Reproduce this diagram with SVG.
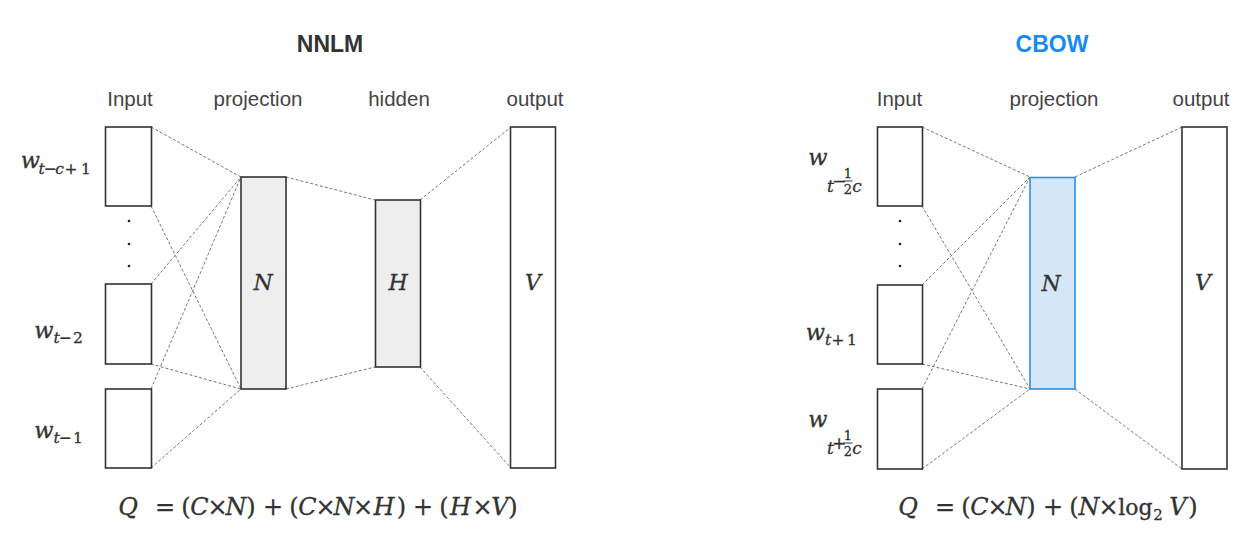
<svg xmlns="http://www.w3.org/2000/svg" width="1245" height="533" viewBox="0 0 1245 533">
<style>
.title{font-family:"Liberation Sans",Arial,sans-serif;font-weight:bold;font-size:23px;text-anchor:middle}
.lbl{font-family:"Liberation Sans",Arial,sans-serif;font-size:20.5px;fill:#444;text-anchor:middle}
.m{font-family:"DejaVu Serif","Liberation Serif",serif;fill:#333;stroke:#333;stroke-width:0.3;text-anchor:middle}
.it{font-style:italic}
.s{font-size:15.5px}
.s2{font-size:17px}
.f{font-size:13px}
.box{fill:#fff;stroke:#333;stroke-width:1.6}
.grey{fill:#eeeeef;stroke:#333;stroke-width:1.6}
.blue{fill:#d5e7f6;stroke:#2a8fe8;stroke-width:1.6}
.dash{stroke:#777;stroke-width:1;stroke-dasharray:3 2;fill:none}
.dot{fill:#222}
.bar{stroke:#333;stroke-width:1}
</style>
<rect width="1245" height="533" fill="#fff"/>

<!-- titles -->
<text class="title" x="330" y="52" fill="#333">NNLM</text>
<text class="title" x="1052" y="52" fill="#168bf5">CBOW</text>

<!-- column labels -->
<text class="lbl" x="130" y="106">Input</text>
<text class="lbl" x="258" y="106">projection</text>
<text class="lbl" x="399" y="106">hidden</text>
<text class="lbl" x="535" y="106">output</text>
<text class="lbl" x="899.5" y="106">Input</text>
<text class="lbl" x="1054" y="106">projection</text>
<text class="lbl" x="1201" y="106">output</text>

<!-- connectors -->
<g id="connectors" class="dash">
  <line x1="151" y1="127" x2="241" y2="177"/>
  <line x1="151" y1="206" x2="241" y2="389"/>
  <line x1="151" y1="284" x2="241" y2="177"/>
  <line x1="151" y1="364" x2="241" y2="389"/>
  <line x1="151" y1="389" x2="241" y2="177"/>
  <line x1="151" y1="468" x2="241" y2="389"/>
  <line x1="286" y1="177" x2="375" y2="200"/>
  <line x1="286" y1="389" x2="375" y2="367"/>
  <line x1="420" y1="200" x2="511" y2="127"/>
  <line x1="420" y1="367" x2="511" y2="468"/>
  <line x1="922" y1="127" x2="1030" y2="177"/>
  <line x1="922" y1="206" x2="1030" y2="389"/>
  <line x1="922" y1="285" x2="1030" y2="177"/>
  <line x1="922" y1="364" x2="1030" y2="389"/>
  <line x1="922" y1="389" x2="1030" y2="177"/>
  <line x1="922" y1="469" x2="1030" y2="389"/>
  <line x1="1075" y1="177" x2="1182" y2="127"/>
  <line x1="1075" y1="389" x2="1182" y2="469"/>
</g>

<!-- NNLM nodes -->
<g id="nnlm-in1"><rect class="box" x="105.5" y="127" width="46" height="79"/>
  <text class="m" y="168"><tspan class="it" x="30.3" font-size="22.5">w</tspan><tspan class="s it" y="174" x="41.5">t</tspan><tspan class="s" x="50.5">−</tspan><tspan class="s it" x="59.5">c</tspan><tspan class="s" x="71">+</tspan><tspan class="s" x="86">1</tspan></text>
</g>
<g id="nnlm-dots"><circle class="dot" cx="129" cy="221" r="1.3"/><circle class="dot" cx="129" cy="244" r="1.3"/><circle class="dot" cx="129" cy="266" r="1.3"/></g>
<g id="nnlm-in2"><rect class="box" x="105.5" y="284" width="46" height="80"/>
  <text class="m" y="338"><tspan class="it" x="44" font-size="22.5">w</tspan><tspan class="s it" y="343" x="56.5">t</tspan><tspan class="s" x="65.5">−</tspan><tspan class="s" x="78">2</tspan></text>
</g>
<g id="nnlm-in3"><rect class="box" x="105.5" y="389" width="46" height="79"/>
  <text class="m" y="438"><tspan class="it" x="44" font-size="22.5">w</tspan><tspan class="s it" y="443" x="56.5">t</tspan><tspan class="s" x="65.5">−</tspan><tspan class="s" x="78">1</tspan></text>
</g>
<g id="nnlm-proj"><rect class="grey" x="241" y="177" width="45" height="212"/>
  <text class="m it" x="263" y="290" font-size="22">N</text></g>
<g id="nnlm-hidden"><rect class="grey" x="375.5" y="200" width="45" height="167"/>
  <text class="m it" x="398" y="290" font-size="22">H</text></g>
<g id="nnlm-out"><rect class="box" x="510.5" y="127" width="45" height="341"/>
  <text class="m it" x="533" y="290" font-size="22">V</text></g>

<!-- CBOW nodes -->
<g id="cbow-in1"><rect class="box" x="877.5" y="127" width="45" height="79"/>
  <text class="m" y="165"><tspan class="it" x="818" font-size="22.5">w</tspan><tspan class="s2 it" y="192" x="830.5">t</tspan><tspan class="s2" y="186.5" x="839">−</tspan><tspan class="f" y="178" x="848">1</tspan><tspan class="f" y="193.5" x="848">2</tspan><tspan class="s2 it" y="192" x="857">c</tspan></text>
  <line class="bar" x1="843.5" y1="181" x2="852.5" y2="181"/>
</g>
<g id="cbow-dots"><circle class="dot" cx="900" cy="221" r="1.3"/><circle class="dot" cx="900" cy="244" r="1.3"/><circle class="dot" cx="900" cy="266" r="1.3"/></g>
<g id="cbow-in2"><rect class="box" x="877.5" y="285" width="45" height="79"/>
  <text class="m" y="340"><tspan class="it" x="815.5" font-size="22.5">w</tspan><tspan class="s it" y="345" x="828">t</tspan><tspan class="s" x="838">+</tspan><tspan class="s" x="852">1</tspan></text>
</g>
<g id="cbow-in3"><rect class="box" x="877.5" y="389" width="45" height="80"/>
  <text class="m" y="427"><tspan class="it" x="818" font-size="22.5">w</tspan><tspan class="s2 it" y="454" x="830.5">t</tspan><tspan class="s2" y="448.5" x="839">+</tspan><tspan class="f" y="440" x="848">1</tspan><tspan class="f" y="455.5" x="848">2</tspan><tspan class="s2 it" y="454" x="857">c</tspan></text>
  <line class="bar" x1="843.5" y1="443" x2="852.5" y2="443"/>
</g>
<g id="cbow-proj"><rect class="blue" x="1030" y="177.5" width="45" height="211.5"/>
  <text class="m it" x="1051" y="291" font-size="22">N</text></g>
<g id="cbow-out"><rect class="box" x="1182" y="127" width="45" height="342"/>
  <text class="m it" x="1203" y="290" font-size="22">V</text></g>

<!-- formulas -->
<g id="nnlm-formula">
<text class="m" y="515" font-size="24"><tspan class="it" x="128">Q</tspan><tspan x="165">=</tspan><tspan x="186">(</tspan><tspan class="it" x="199.5">C</tspan><tspan x="217.5">×</tspan><tspan class="it" x="236">N</tspan><tspan x="251">)</tspan><tspan x="273">+</tspan><tspan x="294">(</tspan><tspan class="it" x="307.5">C</tspan><tspan x="325.5">×</tspan><tspan class="it" x="344">N</tspan><tspan x="363">×</tspan><tspan class="it" x="384">H</tspan><tspan x="401.5">)</tspan><tspan x="423">+</tspan><tspan x="444">(</tspan><tspan class="it" x="460.5">H</tspan><tspan x="482.5">×</tspan><tspan class="it" x="500">V</tspan><tspan x="513">)</tspan></text>
</g>
<g id="cbow-formula">
<text class="m" y="515" font-size="24"><tspan class="it" x="908">Q</tspan><tspan x="945">=</tspan><tspan x="966">(</tspan><tspan class="it" x="979.5">C</tspan><tspan x="997.5">×</tspan><tspan class="it" x="1016">N</tspan><tspan x="1031">)</tspan><tspan x="1053">+</tspan><tspan x="1074">(</tspan><tspan class="it" x="1089">N</tspan><tspan x="1108.5">×</tspan><tspan x="1135.5" font-size="22">log</tspan><tspan x="1158" y="520" font-size="15">2</tspan><tspan class="it" x="1178" y="515">V</tspan><tspan x="1193">)</tspan></text>
</g>
</svg>
